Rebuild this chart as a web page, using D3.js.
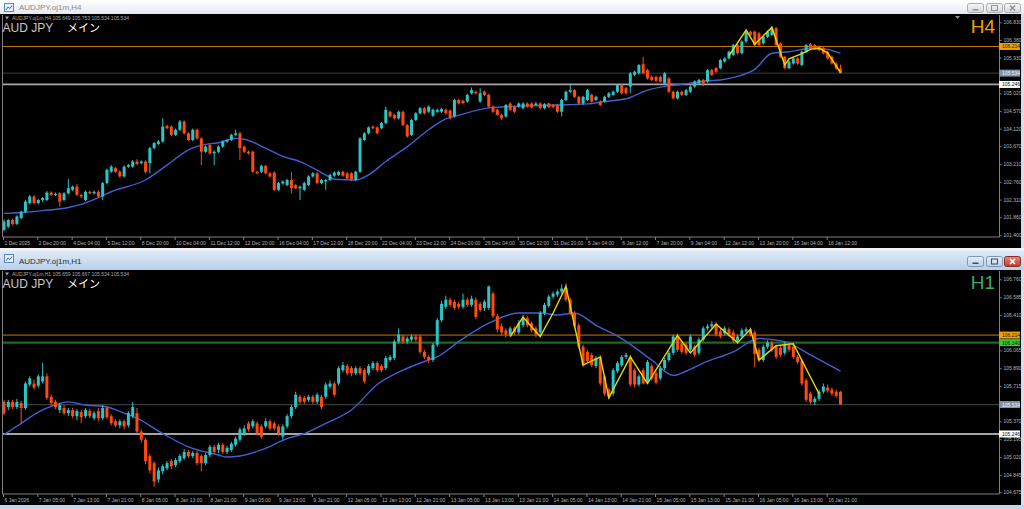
<!DOCTYPE html>
<html><head><meta charset="utf-8">
<script src="https://cdn.jsdelivr.net/npm/d3@7"></script>
<style>html,body{margin:0;padding:0;background:#c6d7ec;}svg{display:block}</style>
</head><body>
<svg id="c" width="1024" height="509"></svg>
<script>
// ---------- DATA ----------
// H4 candles [open, high, low, close]
const h4Ohlc = [
[101.54,101.80,101.50,101.75],[101.62,101.82,101.58,101.79],[101.79,101.83,101.66,101.69],[101.69,101.91,101.66,101.88],[101.84,102.03,101.81,102.00],
[102.00,102.30,101.97,102.26],[102.22,102.43,102.19,102.39],[102.39,102.42,102.19,102.22],[102.22,102.33,102.19,102.30],[102.30,102.38,102.25,102.35],
[102.30,102.53,102.27,102.49],[102.49,102.52,102.40,102.43],[102.43,102.49,102.40,102.45],[102.47,102.50,102.13,102.26],[102.30,102.50,102.27,102.47],
[102.47,102.83,102.44,102.60],[102.56,102.67,102.53,102.64],[102.64,102.71,102.40,102.43],[102.43,102.46,102.35,102.39],[102.30,102.54,102.27,102.51],
[102.51,102.54,102.44,102.47],[102.47,102.54,102.44,102.51],[102.51,102.55,102.36,102.39],[102.39,102.76,102.30,102.73],[102.73,103.10,102.70,103.07],
[103.02,103.19,102.99,103.15],[103.11,103.14,102.99,103.02],[103.02,103.06,102.87,102.90],[102.90,103.18,102.87,103.15],[103.15,103.22,103.12,103.19],
[103.15,103.32,103.12,103.28],[103.28,103.34,103.19,103.22],[103.24,103.31,103.21,103.28],[103.28,103.31,102.98,103.02],[103.24,103.65,102.98,103.62],
[103.62,103.78,103.59,103.75],[103.73,103.83,103.70,103.79],[103.79,104.38,103.76,104.17],[104.19,104.22,104.10,104.13],[104.17,104.20,103.93,103.96],
[103.96,104.12,103.93,104.09],[104.09,104.34,104.06,104.30],[104.30,104.33,103.97,104.00],[104.00,104.03,103.80,103.83],[103.83,104.12,103.80,104.09],
[104.09,104.12,103.84,103.87],[103.87,103.90,103.19,103.53],[103.53,103.69,103.50,103.66],[103.70,103.73,103.46,103.49],[103.49,103.56,103.19,103.53],
[103.53,103.69,103.50,103.66],[103.66,103.82,103.63,103.79],[103.79,103.86,103.76,103.83],[103.83,103.99,103.80,103.96],[103.96,104.09,103.93,104.00],
[104.00,104.04,103.32,103.62],[103.66,103.69,103.50,103.53],[103.53,103.56,103.46,103.49],[103.53,103.56,102.99,103.02],[103.02,103.05,102.95,102.98],
[103.02,103.20,102.99,103.17],[103.17,103.20,102.95,102.98],[102.98,103.01,102.87,102.90],[103.00,103.03,102.53,102.56],[102.56,102.76,102.53,102.73],
[102.72,102.80,102.69,102.77],[102.68,102.84,102.65,102.81],[102.81,103.02,102.47,102.60],[102.68,102.71,102.57,102.60],[102.60,102.67,102.30,102.64],
[102.56,102.76,102.53,102.73],[102.68,102.93,102.65,102.90],[102.90,103.01,102.87,102.98],[102.98,103.01,102.70,102.73],[102.73,102.84,102.70,102.81],
[102.77,102.84,102.56,102.81],[102.81,102.97,102.78,102.94],[102.92,103.03,102.89,103.00],[102.94,103.05,102.91,103.02],[103.02,103.05,102.89,102.92],
[102.98,103.01,102.82,102.85],[102.98,103.01,102.78,102.81],[102.81,103.05,102.78,103.02],[103.02,103.90,102.99,103.87],[103.83,104.03,103.80,104.00],
[104.00,104.18,103.97,104.15],[104.17,104.20,104.10,104.13],[104.15,104.18,103.97,104.00],[104.13,104.29,104.10,104.26],[104.26,104.68,104.23,104.60],
[104.55,104.58,104.40,104.43],[104.47,104.50,104.35,104.38],[104.38,104.58,104.35,104.55],[104.55,104.58,104.18,104.21],[104.21,104.24,103.89,103.92],
[103.96,104.37,103.93,104.34],[104.34,104.54,104.31,104.51],[104.51,104.67,104.48,104.64],[104.64,104.67,104.48,104.51],[104.55,104.71,104.52,104.68],
[104.45,104.63,104.42,104.60],[104.55,104.63,104.52,104.60],[104.55,104.65,104.52,104.62],[104.60,104.63,104.48,104.51],[104.58,104.61,104.35,104.38],
[104.43,104.88,104.40,104.85],[104.85,104.88,104.73,104.76],[104.83,104.86,104.74,104.77],[104.81,105.01,104.78,104.98],[105.02,105.17,104.99,105.10],
[105.06,105.09,104.99,105.02],[104.81,105.15,104.78,105.02],[105.06,105.09,104.95,104.98],[104.98,105.01,104.65,104.68],[104.68,104.71,104.52,104.55],
[104.60,104.63,104.44,104.47],[104.47,104.50,104.33,104.38],[104.43,104.75,104.40,104.72],[104.76,104.79,104.57,104.60],[104.68,104.71,104.52,104.55],
[104.68,104.79,104.65,104.76],[104.64,104.79,104.61,104.76],[104.76,104.79,104.65,104.68],[104.76,104.79,104.63,104.66],[104.72,104.80,104.69,104.76],
[104.76,104.79,104.61,104.64],[104.64,104.77,104.61,104.74],[104.76,104.79,104.64,104.67],[104.72,104.75,104.64,104.67],[104.72,104.75,104.52,104.55],
[104.55,104.88,104.43,104.85],[104.85,105.09,104.82,105.06],[105.06,105.27,105.03,105.10],[105.10,105.13,104.90,104.93],[104.93,104.96,104.73,104.76],
[104.76,104.96,104.73,104.93],[104.85,105.13,104.82,105.10],[104.98,105.01,104.78,104.81],[104.85,104.96,104.82,104.93],[104.81,104.84,104.69,104.72],
[104.81,104.96,104.78,104.93],[104.93,105.05,104.90,105.02],[104.98,105.09,104.95,105.06],[105.06,105.26,105.03,105.23],[105.23,105.26,104.99,105.02],
[105.15,105.18,104.99,105.02],[105.19,105.56,105.02,105.53],[105.49,105.60,105.46,105.57],[105.53,105.77,105.50,105.74],[105.76,105.95,105.50,105.53],
[105.61,105.64,105.37,105.40],[105.44,105.47,105.33,105.36],[105.44,105.47,105.31,105.34],[105.44,105.47,105.29,105.32],[105.27,105.56,105.24,105.53],
[105.40,105.43,105.03,105.06],[105.06,105.09,104.86,104.89],[104.89,105.09,104.86,105.06],[105.06,105.09,104.95,104.98],[104.98,105.13,104.95,105.10],
[105.06,105.22,105.03,105.19],[105.19,105.35,105.16,105.32],[105.27,105.39,105.24,105.36],[105.36,105.39,105.20,105.27],[105.32,105.64,105.29,105.61],
[105.61,105.64,105.46,105.49],[105.66,105.69,105.54,105.57],[105.66,105.90,105.63,105.87],[105.83,105.94,105.80,105.91],[105.91,106.11,105.88,106.08],
[106.00,106.28,105.97,106.25],[106.25,106.28,106.01,106.04],[106.04,106.37,106.01,106.34],[106.34,106.63,106.31,106.59],[106.59,106.62,106.48,106.51],
[106.59,106.62,106.22,106.25],[106.55,106.58,106.22,106.25],[106.29,106.49,106.26,106.46],[106.46,106.62,106.43,106.59],[106.51,106.73,106.48,106.68],
[106.68,106.71,106.22,106.25],[106.29,106.32,105.92,105.95],[105.95,105.98,105.63,105.66],[105.66,105.86,105.63,105.83],[105.78,105.94,105.75,105.91],
[105.91,105.94,105.75,105.78],[105.74,106.11,105.71,106.08],[106.08,106.28,106.05,106.25],[106.27,106.30,106.14,106.17],[106.25,106.28,106.14,106.17],
[106.21,106.24,106.09,106.12],[106.17,106.20,106.01,106.04],[106.08,106.11,105.88,105.91],[105.95,105.98,105.75,105.78],[105.78,105.81,105.62,105.65],
[105.649,105.753,105.534,105.534]
];
// H1 candles [open, high, low, close]
const h1Ohlc = [
[105.56,105.58,105.43,105.45],[105.51,105.58,105.48,105.56],[105.56,105.58,105.49,105.51],[105.51,105.59,105.49,105.56],[105.55,105.57,105.35,105.50],
[105.50,105.76,105.48,105.74],[105.73,105.81,105.71,105.79],[105.74,105.78,105.68,105.70],[105.72,105.83,105.70,105.81],[105.76,105.94,105.74,105.81],
[105.81,105.84,105.58,105.60],[105.61,105.63,105.52,105.55],[105.56,105.58,105.49,105.51],[105.48,105.55,105.45,105.53],[105.50,105.53,105.43,105.45],
[105.45,105.50,105.42,105.48],[105.48,105.50,105.40,105.42],[105.42,105.49,105.38,105.47],[105.46,105.48,105.35,105.41],[105.42,105.50,105.40,105.48],
[105.47,105.49,105.40,105.42],[105.40,105.47,105.38,105.45],[105.47,105.50,105.37,105.40],[105.40,105.53,105.38,105.50],[105.50,105.52,105.39,105.41],
[105.42,105.44,105.33,105.35],[105.37,105.39,105.31,105.33],[105.33,105.39,105.30,105.37],[105.37,105.39,105.29,105.32],[105.33,105.47,105.31,105.45],
[105.42,105.56,105.40,105.51],[105.45,105.50,105.25,105.27],[105.27,105.29,105.16,105.19],[105.19,105.21,104.95,104.98],[105.03,105.05,104.86,104.89],
[104.96,104.98,104.73,104.78],[104.80,104.92,104.77,104.89],[104.88,104.95,104.85,104.93],[104.91,104.98,104.89,104.96],[104.98,105.00,104.90,104.93],
[104.94,105.01,104.92,104.99],[104.98,105.05,104.96,105.03],[105.01,105.10,104.99,105.07],[105.07,105.09,105.01,105.03],[105.03,105.08,105.01,105.06],
[105.06,105.08,104.94,104.96],[105.03,105.05,104.88,104.96],[104.96,105.06,104.94,105.04],[105.04,105.14,105.02,105.12],[105.12,105.14,105.05,105.07],
[105.09,105.16,105.06,105.14],[105.14,105.16,105.05,105.07],[105.07,105.13,105.05,105.11],[105.09,105.17,105.07,105.15],[105.14,105.22,105.12,105.20],
[105.19,105.31,105.17,105.29],[105.25,105.33,105.23,105.30],[105.35,105.37,105.27,105.29],[105.32,105.39,105.30,105.37],[105.35,105.37,105.23,105.25],
[105.32,105.34,105.20,105.22],[105.32,105.40,105.30,105.37],[105.37,105.39,105.28,105.30],[105.35,105.37,105.28,105.30],[105.32,105.34,105.23,105.25],
[105.22,105.34,105.19,105.32],[105.32,105.44,105.30,105.42],[105.42,105.53,105.40,105.51],[105.51,105.66,105.49,105.63],[105.61,105.63,105.54,105.56],
[105.60,105.62,105.54,105.56],[105.58,105.63,105.56,105.61],[105.61,105.63,105.54,105.56],[105.56,105.65,105.54,105.63],[105.61,105.63,105.49,105.51],
[105.61,105.75,105.59,105.73],[105.71,105.77,105.69,105.74],[105.74,105.76,105.61,105.63],[105.74,105.91,105.72,105.89],[105.87,105.95,105.85,105.92],
[105.91,105.93,105.82,105.84],[105.89,105.91,105.81,105.84],[105.84,105.91,105.82,105.89],[105.89,105.91,105.82,105.84],[105.87,105.89,105.74,105.76],
[105.84,105.93,105.82,105.91],[105.89,105.96,105.87,105.94],[105.94,105.96,105.85,105.87],[105.91,105.93,105.85,105.87],[105.89,106.01,105.87,105.99],
[105.97,106.02,105.95,106.00],[105.99,106.17,105.97,106.15],[106.15,106.28,106.13,106.22],[106.20,106.22,106.13,106.15],[106.15,106.20,106.13,106.18],
[106.17,106.22,106.15,106.20],[106.20,106.22,106.15,106.17],[106.20,106.22,106.03,106.05],[106.05,106.07,105.98,106.00],[106.00,106.02,105.94,105.97],
[105.97,106.14,105.95,106.12],[106.12,106.38,106.10,106.36],[106.36,106.55,106.34,106.52],[106.49,106.60,106.47,106.56],[106.56,106.58,106.49,106.51],
[106.54,106.56,106.46,106.48],[106.52,106.54,106.47,106.49],[106.49,106.62,106.47,106.56],[106.56,106.58,106.49,106.51],[106.51,106.60,106.49,106.57],
[106.56,106.58,106.37,106.39],[106.52,106.54,106.44,106.46],[106.48,106.56,106.45,106.54],[106.48,106.70,106.46,106.69],[106.62,106.64,106.38,106.40],
[106.40,106.42,106.24,106.27],[106.30,106.33,106.21,106.24],[106.26,106.28,106.19,106.22],[106.22,106.30,106.20,106.28],[106.28,106.30,106.22,106.24],
[106.24,106.36,106.22,106.33],[106.31,106.41,106.29,106.38],[106.38,106.40,106.29,106.31],[106.33,106.35,106.24,106.26],[106.28,106.30,106.19,106.22],
[106.24,106.45,106.21,106.43],[106.43,106.53,106.41,106.51],[106.50,106.61,106.48,106.59],[106.59,106.64,106.57,106.62],[106.61,106.66,106.59,106.64],
[106.64,106.71,106.62,106.67],[106.67,106.72,106.54,106.56],[106.56,106.58,106.41,106.43],[106.43,106.45,106.28,106.30],[106.31,106.33,106.08,106.10],
[106.10,106.12,105.90,105.92],[106.05,106.07,105.94,105.96],[106.02,106.04,105.90,105.92],[105.91,106.01,105.89,105.99],[106.00,106.02,105.72,105.74],
[105.81,105.83,105.62,105.64],[105.68,105.70,105.59,105.61],[105.64,105.89,105.62,105.87],[105.86,105.96,105.84,105.94],[105.92,106.02,105.90,106.00],
[106.00,106.04,105.98,106.02],[106.00,106.02,105.71,105.73],[105.87,105.89,105.70,105.73],[105.73,105.83,105.71,105.81],[105.87,105.89,105.73,105.74],
[105.76,105.97,105.74,105.95],[105.91,105.93,105.77,105.79],[105.84,105.86,105.73,105.75],[105.79,105.91,105.77,105.89],[105.89,105.99,105.87,105.97],
[105.97,106.06,105.95,106.04],[106.04,106.22,106.02,106.20],[106.20,106.23,106.05,106.07],[106.13,106.15,106.03,106.05],[106.12,106.14,106.02,106.04],
[106.07,106.22,106.05,106.20],[106.10,106.12,106.00,106.02],[106.04,106.19,106.02,106.17],[106.17,106.30,106.15,106.28],[106.28,106.32,106.26,106.30],
[106.30,106.35,106.28,106.32],[106.32,106.34,106.20,106.22],[106.25,106.28,106.18,106.20],[106.23,106.30,106.21,106.28],[106.27,106.29,106.20,106.22],
[106.24,106.26,106.14,106.16],[106.16,106.22,106.13,106.20],[106.20,106.28,106.18,106.26],[106.25,106.29,106.23,106.27],[106.27,106.29,106.20,106.22],
[106.24,106.26,105.90,106.03],[106.07,106.09,105.95,105.97],[105.97,106.12,105.95,106.10],[106.10,106.16,106.08,106.14],[106.14,106.16,106.05,106.07],
[106.10,106.12,105.98,106.00],[106.09,106.11,106.00,106.02],[106.04,106.15,106.02,106.13],[106.12,106.14,106.05,106.07],[106.10,106.14,105.98,106.00],
[106.00,106.02,105.93,105.95],[105.96,105.98,105.72,105.74],[105.77,105.79,105.56,105.58],[105.64,105.66,105.54,105.56],[105.56,105.61,105.53,105.59],
[105.59,105.68,105.57,105.66],[105.66,105.74,105.64,105.71],[105.70,105.73,105.65,105.67],[105.68,105.70,105.62,105.64],[105.66,105.68,105.60,105.62],
[105.659,105.667,105.534,105.534]
];
// moving average [bar, price]
const h4Ma = [[0,101.96],[4,101.98],[9,102.03],[15,102.11],[18,102.19],[23,102.41],[25,102.51],[33,102.81],[38,103.19],[43,103.58],[46,103.70],[50,103.76],[54,103.87],[56,103.85],[61,103.62],[65,103.41],[69,103.28],[75,102.94],[77,102.83],[82,102.81],[85,102.94],[89,103.28],[94,103.66],[99,104.09],[103,104.37],[105,104.43],[114,104.66],[128,104.72],[136,104.75],[140,104.81],[145,104.88],[150,105.10],[155,105.21],[159,105.26],[164,105.34],[167,105.36],[171,105.45],[175,105.63],[179,106.04],[183,106.08],[189,106.18],[192,106.14],[195,106.04]];
const h1Ma = [[0,105.24],[4,105.35],[8,105.46],[12,105.53],[15,105.56],[19,105.53],[24,105.51],[28,105.45],[31,105.40],[37,105.25],[43,105.12],[50,105.04],[52,105.02],[55,105.03],[60,105.09],[66,105.20],[70,105.25],[75,105.35],[81,105.48],[87,105.73],[93,105.87],[99,105.97],[101,106.00],[106,106.15],[113,106.33],[120,106.43],[125,106.43],[129,106.41],[133,106.43],[138,106.31],[144,106.18],[151,105.97],[156,105.82],[159,105.86],[163,105.94],[170,106.05],[176,106.18],[182,106.15],[188,106.02],[195,105.86]];
// zigzag [bar, price]
const h4Zigzag = [[169,105.98],[173,106.63],[175,106.27],[179,106.70],[182,105.74],[183,105.90],[186,106.03],[188,106.14],[190,106.17],[192,106.05],[195,105.55]];
const h1Zigzag = [[118,106.20],[121,106.39],[125,106.20],[128,106.43],[131,106.69],[135,105.92],[139,106.00],[141,105.60],[146,106.00],[150,105.74],[157,106.21],[160,106.04],[166,106.32],[171,106.14],[174,106.27],[176,105.97],[180,106.11],[184,106.13],[190,105.64]];
// horizontal levels
const h4Levels = [106.214, 105.534, 105.246];
const h1Levels = [106.214, 106.140, 105.534, 105.246];
// axis ticks
const h4YTicks = [106.830,106.380,105.930,105.020,104.570,104.120,103.670,103.210,102.760,102.310,101.860,101.400];
const h1YTicks = [106.760,106.585,106.410,106.065,105.890,105.715,105.370,105.195,105.020,104.845,104.675];
const h4XLabels = ["1 Dec 2025","2 Dec 20:00","4 Dec 04:00","5 Dec 12:00","8 Dec 20:00","10 Dec 04:00","11 Dec 12:00","12 Dec 20:00","16 Dec 04:00","17 Dec 12:00","18 Dec 20:00","22 Dec 04:00","23 Dec 12:00","24 Dec 20:00","29 Dec 04:00","30 Dec 12:00","31 Dec 20:00","5 Jan 04:00","6 Jan 12:00","7 Jan 20:00","9 Jan 04:00","12 Jan 12:00","13 Jan 20:00","15 Jan 04:00","16 Jan 12:00"];
const h1XLabels = ["6 Jan 2026","7 Jan 05:00","7 Jan 13:00","7 Jan 21:00","8 Jan 05:00","8 Jan 13:00","8 Jan 21:00","9 Jan 05:00","9 Jan 13:00","9 Jan 21:00","12 Jan 05:00","12 Jan 13:00","12 Jan 21:00","13 Jan 05:00","13 Jan 13:00","13 Jan 21:00","14 Jan 05:00","14 Jan 13:00","14 Jan 21:00","15 Jan 05:00","15 Jan 13:00","15 Jan 21:00","16 Jan 05:00","16 Jan 13:00","16 Jan 21:00"];
const labelEvery = 8;

// ---------- DRAW ----------
const svg = d3.select("#c");
const defs = svg.append("defs");
function grad(id, c1, c2){
  const g = defs.append("linearGradient").attr("id", id).attr("x1",0).attr("y1",0).attr("x2",0).attr("y2",1);
  g.append("stop").attr("offset","0%").attr("stop-color",c1);
  g.append("stop").attr("offset","100%").attr("stop-color",c2);
}
grad("tbInactive","#ffffff","#e4e9f0");
grad("tbActive","#dfebf8","#b7cfea");
grad("btnGrey","#f6f6f6","#d6d9dd");
grad("btnBlue","#e6eff9","#bccfe6");
grad("btnRed","#e08a7e","#c23a2c");

const BULL = "#2cc5c5", BEAR = "#ff4a12", MA = "#4060d2", ZZ = "#eadb00";
const FONT = "'Liberation Sans', Arial, sans-serif";

function titleBar(y0, h, active, title){
  svg.append("rect").attr("x",0).attr("y",y0).attr("width",1024).attr("height",h)
     .attr("fill", active ? "url(#tbActive)" : "url(#tbInactive)");
  svg.append("rect").attr("x",4.5).attr("y",y0+3.5).attr("width",9).attr("height",8)
     .attr("fill","#e8f0fa").attr("stroke","#5b86c0").attr("stroke-width",1);
  svg.append("path").attr("d",`M6,${y0+10} L8,${y0+7} L10,${y0+8.5} L12,${y0+5.5}`)
     .attr("fill","none").attr("stroke","#3a6fb5").attr("stroke-width",1);
  svg.append("text").attr("x",19).attr("y",y0+h/2+3).attr("font-family",FONT).attr("font-size",8)
     .attr("fill", active ? "#1e2b3a" : "#8a8a8a").text(title);
  const bx = [967, 986, 1004], bw = [16, 16, 16];
  bx.forEach((x,k)=>{
    const by = y0 + (active ? 5 : 3), bh = active ? 10 : 9;
    const fill = k===2 && active ? "url(#btnRed)" : (active ? "url(#btnBlue)" : "url(#btnGrey)");
    svg.append("rect").attr("x",x+0.5).attr("y",by+0.5).attr("width",bw[k]).attr("height",bh).attr("rx",2)
       .attr("fill",fill).attr("stroke", active ? (k===2?"#8c2a22":"#7f97b5") : "#a9adb2").attr("stroke-width",1);
    const cx = x + bw[k]/2 + 0.5, cy = by + bh/2 + 0.5;
    const ic = k===2 && active ? "#ffffff" : (active ? "#3a4c63" : "#8d9299");
    if (k===0) svg.append("rect").attr("x",cx-3).attr("y",cy+1).attr("width",6).attr("height",1.5).attr("fill",ic);
    if (k===1) svg.append("rect").attr("x",cx-3).attr("y",cy-2.5).attr("width",6).attr("height",5).attr("fill","none").attr("stroke",ic).attr("stroke-width",1);
    if (k===2) svg.append("path").attr("d",`M${cx-2.5},${cy-2.5}L${cx+2.5},${cy+2.5}M${cx+2.5},${cy-2.5}L${cx-2.5},${cy+2.5}`).attr("stroke",ic).attr("stroke-width",1.5);
  });
}

function panel(cfg){
  const {ohlc, ma, zz, levels, levelStyles, yTicks, xLabels, top, bottom, plotTop, plotBottom, yTop, yBottom, tf, tfColor, infoName, shift} = cfg;
  svg.append("rect").attr("x",0).attr("y",top).attr("width",1021).attr("height",bottom-top).attr("fill","#000");
  svg.append("rect").attr("x",1021).attr("y",top).attr("width",3).attr("height",bottom-top).attr("fill","#d4dfec");

  const plotL = 2, plotR = 999;
  const x = d3.scaleLinear().domain([0, ohlc.length-1]).range([4, 840.5]);
  const y = d3.scaleLinear().domain([yTicks[0], yTicks[yTicks.length-1]]).range([yTop, yBottom]);

  const clipId = "clip"+tf;
  defs.append("clipPath").attr("id",clipId).append("rect")
    .attr("x",plotL).attr("y",plotTop).attr("width",plotR-plotL).attr("height",plotBottom-plotTop);
  const g = svg.append("g").attr("clip-path",`url(#${clipId})`);

  g.selectAll("line.lvl").data(levels).join("line").attr("class","lvl")
    .attr("x1",plotL).attr("x2",plotR).attr("y1",d=>y(d)).attr("y2",d=>y(d))
    .attr("stroke",(d,k)=>levelStyles[k].line).attr("stroke-width",(d,k)=>levelStyles[k].w);

  g.append("path").datum(ma).attr("fill","none").attr("stroke",MA).attr("stroke-width",1.4)
    .attr("d", d3.line().x(d=>x(d[0])).y(d=>y(d[1])).curve(d3.curveMonotoneX));

  const c = g.selectAll("g.cdl").data(ohlc).join("g").attr("class","cdl");
  c.append("line").attr("x1",(d,i)=>x(i)).attr("x2",(d,i)=>x(i))
    .attr("y1",d=>y(d[1])).attr("y2",d=>y(d[2]))
    .attr("stroke",d=>d[3]>=d[0]?BULL:BEAR).attr("stroke-width",1);
  c.append("rect").attr("x",(d,i)=>x(i)-1.5).attr("width",3)
    .attr("y",d=>Math.min(y(d[0]),y(d[3])))
    .attr("height",d=>Math.max(1,Math.abs(y(d[0])-y(d[3]))))
    .attr("fill",d=>d[3]>=d[0]?BULL:BEAR);

  g.append("path").datum(zz).attr("fill","none").attr("stroke",ZZ).attr("stroke-width",1.4)
    .attr("d", d3.line().x(d=>x(d[0])).y(d=>y(d[1])));

  svg.append("path").attr("d",`M${plotL+0.5},${plotTop}V${plotBottom+0.5}H${plotR+0.5}V${plotTop}`)
    .attr("fill","none").attr("stroke","#808080").attr("stroke-width",1);

  const ya = svg.append("g").attr("transform",`translate(${plotR+0.5},0)`)
    .call(d3.axisRight(y).tickValues(yTicks).tickFormat(d3.format(".3f")).tickSize(2).tickPadding(2).tickSizeOuter(0));
  ya.select(".domain").remove();
  ya.selectAll("line").attr("stroke","#808080");
  ya.selectAll("text").attr("fill","#b4b4b4").attr("font-size",5).attr("font-family",FONT);

  const xa = svg.append("g").attr("transform",`translate(0,${plotBottom+0.5})`)
    .call(d3.axisBottom(x).tickValues(d3.range(0, ohlc.length, labelEvery)).tickFormat((d,k)=>xLabels[k]).tickSize(3).tickPadding(1).tickSizeOuter(0));
  xa.select(".domain").remove();
  xa.selectAll("line").attr("stroke","#808080").attr("transform","translate(-1,0)");
  xa.selectAll("text").attr("fill","#b4b4b4").attr("font-size",5).attr("font-family",FONT)
    .attr("text-anchor","start").attr("x",0);

  levels.forEach((v,k)=>{
    const st = levelStyles[k];
    svg.append("rect").attr("x",plotR).attr("y",y(v)-3.5).attr("width",21).attr("height",7).attr("fill",st.box);
    svg.append("text").attr("x",plotR+3).attr("y",y(v)+2).attr("font-size",5).attr("font-family",FONT)
       .attr("fill",st.txt).text(d3.format(".3f")(v));
  });

  const last = ohlc[ohlc.length-1];
  const f3 = d3.format(".3f");
  if (shift) svg.append("path").attr("d",`M955,${top+2}h5l-2.5,3z`).attr("fill","#909090");
  svg.append("path").attr("d",`M5,${top+2.5}h4l-2,3z`).attr("fill","#a0a0a0");
  svg.append("text").attr("x",12).attr("y",top+5.6).attr("font-size",5).attr("font-family",FONT).attr("fill","#a8a8a8")
    .text(`${infoName}  ${f3(last[0])} ${f3(last[1])} ${f3(last[2])} ${f3(last[3])}`);
  svg.append("text").attr("x",2.5).attr("y",top+18).attr("font-size",12).attr("font-family",FONT).attr("fill","#c8c8c8").text("AUD JPY");
  svg.append("text").attr("x",67).attr("y",top+18).attr("font-size",11).attr("font-family","'Noto Sans CJK JP', sans-serif").attr("fill","#ffffff").text("メイン");
  svg.append("text").attr("x",995).attr("y",top+18.5).attr("text-anchor","end").attr("font-size",19).attr("font-family",FONT).attr("fill",tfColor).text(tf);
}

titleBar(0, 14, false, "AUDJPY.oj1m,H4");
svg.append("rect").attr("x",0).attr("y",248).attr("width",1024).attr("height",3).attr("fill","#eef2f7");
titleBar(251, 19, true, "AUDJPY.oj1m,H1");

const styH4 = [
  {line:"#c97a00", w:1, box:"#f2a100", txt:"#1a1a1a"},
  {line:"#3c3c3c", w:1, box:"#8192a8", txt:"#eef2f8"},
  {line:"#a6a6a6", w:1.8, box:"#ffffff", txt:"#111111"}
];
const styH1 = [
  {line:"#c97a00", w:1, box:"#f2a100", txt:"#1a1a1a"},
  {line:"#1c6a1c", w:2.2, box:"#35c935", txt:"#0a2a0a"},
  {line:"#3c3c3c", w:1.3, box:"#8192a8", txt:"#eef2f8"},
  {line:"#a6a6a6", w:2, box:"#ffffff", txt:"#111111"}
];

panel({ohlc:h4Ohlc, ma:h4Ma, zz:h4Zigzag, levels:h4Levels, levelStyles:styH4, yTicks:h4YTicks, xLabels:h4XLabels,
  top:14, bottom:248, plotTop:15, plotBottom:236.5, yTop:22.3, yBottom:235.3, tf:"H4", tfColor:"#f2a000", infoName:"AUDJPY.oj1m,H4", shift:true});
panel({ohlc:h1Ohlc, ma:h1Ma, zz:h1Zigzag, levels:h1Levels, levelStyles:styH1, yTicks:h1YTicks, xLabels:h1XLabels,
  top:270, bottom:505, plotTop:271, plotBottom:493.5, yTop:279.3, yBottom:492.3, tf:"H1", tfColor:"#3aaa6a", infoName:"AUDJPY.oj1m,H1", shift:false});
svg.append("rect").attr("x",0).attr("y",505).attr("width",1024).attr("height",4).attr("fill","#c4d6ec");
</script>
</body></html>
